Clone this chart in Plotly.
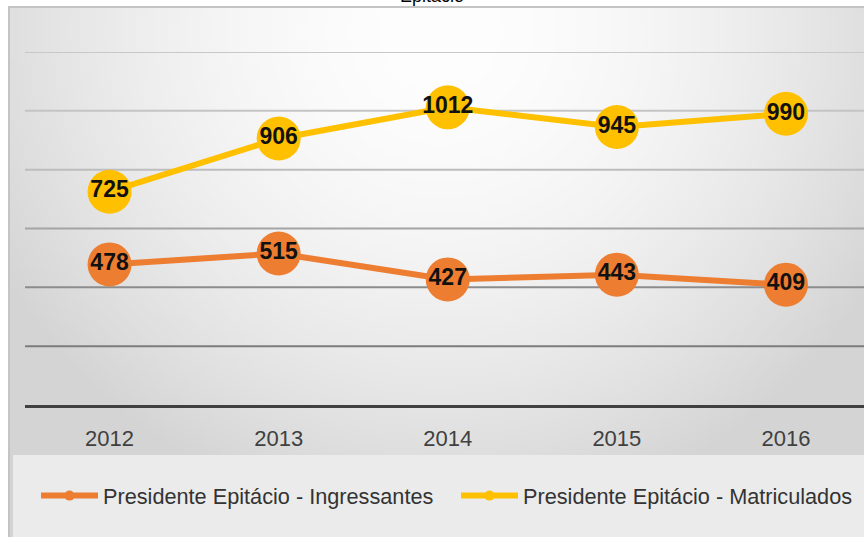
import base64, struct, zlib
import numpy as np
import plotly.graph_objects as go

years = ["2012", "2013", "2014", "2015", "2016"]
ingressantes = [478, 515, 427, 443, 409]
matriculados = [725, 906, 1012, 945, 990]
name_ing = "Presidente Epitácio - Ingressantes"
name_mat = "Presidente Epitácio - Matriculados"
title_text = "Epitácio"
grid_values = [200, 400, 600, 800, 1000, 1200]
grid_colors = ["#7c7c7c", "#8c8c8c", "#a4a4a4", "#bdbdbd", "#c4c4c4", "#c8c8c8"]

W, H = 864, 537
L, R, T, B = 25, 0, 52, 132
PW, PH = W - L - R, H - T - B

def px2x(px):
    return (px - L) / PW

def py2y(py):
    return (H - B - py) / PH

def png_uri(arr):
    h, w, _ = arr.shape
    raw = b"".join(b"\x00" + arr[i].tobytes() for i in range(h))
    def chunk(t, d):
        c = struct.pack(">I", len(d)) + t + d
        return c + struct.pack(">I", zlib.crc32(t + d) & 0xffffffff)
    png = b"\x89PNG\r\n\x1a\n" + chunk(b"IHDR", struct.pack(">IIBBBBB", w, h, 8, 2, 0, 0, 0))
    png += chunk(b"IDAT", zlib.compress(raw, 9)) + chunk(b"IEND", b"")
    return "data:image/png;base64," + base64.b64encode(png).decode()

# background radial gradient for panel (x 9..864, y 7..537)
gw, gh = 214, 132
xs = np.linspace(9, 864, gw)
ys = np.linspace(7, 537, gh)
X, Y = np.meshgrid(xs, ys)
r = np.sqrt(((X - 440) / 440) ** 2 + ((Y - 30) / 430) ** 2)
v = np.clip(254 - 32 * r ** 1.8, 212, 255).astype(np.uint8)
img = np.stack([v, v, v], axis=-1)
bg_uri = png_uri(img)

label_font = dict(family="Liberation Sans, Arial", size=23, color="#111111", weight="bold")

fig = go.Figure()
fig.add_trace(go.Scatter(
    x=years, y=ingressantes, mode="lines+markers+text", text=[str(v) for v in ingressantes],
    textposition="middle center", textfont=label_font,
    line=dict(color="#ED7D31", width=6), marker=dict(size=44, color="#ED7D31"),
    showlegend=False, cliponaxis=False))
fig.add_trace(go.Scatter(
    x=years, y=matriculados, mode="lines+markers+text", text=[str(v) for v in matriculados],
    textposition="middle center", textfont=label_font,
    line=dict(color="#FFC000", width=6), marker=dict(size=44, color="#FFC000"),
    showlegend=False, cliponaxis=False))
# legend entries
fig.add_trace(go.Scatter(x=[None], y=[None], mode="lines+markers", name=name_ing, legend="legend",
                         line=dict(color="#ED7D31", width=6), marker=dict(size=10, color="#ED7D31")))
fig.add_trace(go.Scatter(x=[None], y=[None], mode="lines+markers", name=name_mat, legend="legend2",
                         line=dict(color="#FFC000", width=6), marker=dict(size=10, color="#FFC000")))

shapes = [
    dict(type="rect", xref="paper", yref="paper", x0=px2x(9), x1=px2x(866), y0=py2y(540), y1=py2y(7),
         line=dict(color="#c4c4c4", width=2), fillcolor="rgba(0,0,0,0)", layer="below"),
    dict(type="rect", xref="paper", yref="paper", x0=px2x(13), x1=px2x(866), y0=py2y(540), y1=py2y(455),
         line=dict(width=0), fillcolor="#ebebeb", layer="below"),
]
for gv, gc in zip(grid_values, grid_colors):
    shapes.append(dict(type="line", xref="paper", yref="y", x0=0, x1=1, y0=gv, y1=gv,
                       line=dict(color=gc, width=2), layer="below"))

legend_common = dict(orientation="h", yanchor="middle", y=py2y(496), xanchor="left",
                     font=dict(size=21.7, color="#333333"), itemwidth=57,
                     bgcolor="rgba(0,0,0,0)", tracegroupgap=0)

fig.update_layout(
    width=W, height=H,
    margin=dict(l=L, r=R, t=T, b=B),
    paper_bgcolor="white", plot_bgcolor="rgba(0,0,0,0)",
    font=dict(family="Liberation Sans, Arial", color="#404040"),
    showlegend=True,
    legend=dict(x=px2x(36), **legend_common),
    legend2=dict(x=px2x(456), **legend_common),
    xaxis=dict(type="category", range=[-0.5, (W - 110) / 169.0], showgrid=False, zeroline=False,
               showline=True, linecolor="#404040", linewidth=3, ticks="",
               tickfont=dict(size=22, color="#404040"), ticklabelstandoff=12, fixedrange=True),
    yaxis=dict(range=[0, 1200], dtick=200, showgrid=False,
               showticklabels=False, zeroline=False, showline=False, fixedrange=True),
    images=[dict(source=bg_uri, xref="paper", yref="paper", x=px2x(9), y=py2y(7),
                 sizex=(864 - 9) / PW, sizey=(537 - 7) / PH, xanchor="left", yanchor="top",
                 sizing="stretch", layer="below")],
    shapes=shapes,
    annotations=[dict(text=title_text, xref="paper", yref="paper", x=px2x(432), y=py2y(8),
                      xanchor="center", yanchor="bottom", showarrow=False,
                      font=dict(family="Liberation Sans, Arial", size=18, color="#000000"))],
)

fig.write_html("out.html", config={"displayModeBar": False},
               post_script="document.body.style.margin='0';document.body.style.overflow='hidden';")
